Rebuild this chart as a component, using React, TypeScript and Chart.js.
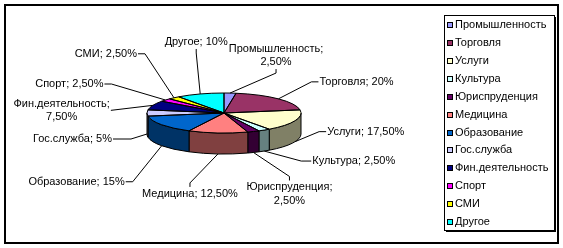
import React, { useEffect, useRef } from "react";
import { Chart, registerables } from "chart.js";

Chart.register(...registerables);

// ---- data ----
const categories = [
  "Промышленность",
  "Торговля",
  "Услуги",
  "Культура",
  "Юриспруденция",
  "Медицина",
  "Образование",
  "Гос.служба",
  "Фин.деятельность",
  "Спорт",
  "СМИ",
  "Другое",
];
const shares = [2.5, 20, 17.5, 2.5, 2.5, 12.5, 15, 5, 7.5, 2.5, 2.5, 10];
const colors = [
  "#9999FF",
  "#993366",
  "#FFFFCC",
  "#CCFFFF",
  "#660066",
  "#FF8080",
  "#0066CC",
  "#CCCCFF",
  "#000080",
  "#FF00FF",
  "#FFFF00",
  "#00FFFF",
];

// ---- label layout (offset of label attach point from the slice edge point) ----
type Side = "left" | "right" | "top" | "bottom";
const labelLayout: { dx: number; dy: number; side: Side; wrap?: boolean; tail?: number }[] = [
  { dx: 46, dy: -24, side: "bottom", wrap: true },
  { dx: 40, dy: -17, side: "left" },
  { dx: 31, dy: -10, side: "left" },
  { dx: 47, dy: 10, side: "left", tail: 10 },
  { dx: 36, dy: 28, side: "top", wrap: true },
  { dx: -28, dy: 33, side: "top" },
  { dx: -36, dy: 36, side: "right" },
  { dx: -34, dy: 5, side: "right", tail: 18 },
  { dx: -42, dy: 5, side: "right", wrap: true, tail: 0 },
  { dx: -61, dy: -16, side: "right" },
  { dx: -36, dy: -44, side: "right" },
  { dx: -4, dy: -45, side: "bottom" },
];

const FONT = '11px "Liberation Sans", Arial, sans-serif';
const TILT = 20 / 77;
const DEPTH = 21;

function fmtPct(v: number) {
  return Number.isInteger(v) ? `${v}%` : `${v.toFixed(2).replace(".", ",")}%`;
}

function shade(hex: string) {
  const n = parseInt(hex.slice(1), 16);
  const r = Math.round(((n >> 16) & 255) * 0.5);
  const g = Math.round(((n >> 8) & 255) * 0.5);
  const b = Math.round((n & 255) * 0.5);
  return `rgb(${r},${g},${b})`;
}

function geom(chart: any) {
  const arcs = chart.getDatasetMeta(0).data as any[];
  const a0 = arcs[0];
  return { arcs, cx: a0.x as number, cy: a0.y as number, rx: a0.outerRadius as number, ry: a0.outerRadius * TILT };
}

const pie3d = {
  id: "pie3d",
  beforeDatasetsDraw(chart: any) {
    const { ctx } = chart;
    const { arcs, cx, cy, rx, ry } = geom(chart);
    ctx.save();
    ctx.lineWidth = 1;
    ctx.strokeStyle = "#000";
    arcs.forEach((arc: any, i: number) => {
      const s = Math.max(arc.startAngle, 0);
      const e = Math.min(arc.endAngle, Math.PI);
      if (e <= s) return;
      ctx.beginPath();
      ctx.moveTo(cx + rx * Math.cos(s), cy + ry * Math.sin(s));
      ctx.ellipse(cx, cy, rx, ry, 0, s, e);
      ctx.lineTo(cx + rx * Math.cos(e), cy + DEPTH + ry * Math.sin(e));
      ctx.ellipse(cx, cy + DEPTH, rx, ry, 0, e, s, true);
      ctx.closePath();
      ctx.fillStyle = shade(colors[i]);
      ctx.fill();
      ctx.stroke();
    });
    ctx.restore();
    ctx.save();
    ctx.translate(cx, cy);
    ctx.scale(1, TILT);
    ctx.translate(-cx, -cy);
  },
  afterDatasetsDraw(chart: any) {
    const { ctx } = chart;
    ctx.restore();
    const { arcs, cx, cy, rx, ry } = geom(chart);
    ctx.save();
    ctx.lineWidth = 1;
    ctx.strokeStyle = "#000";
    // top outlines
    arcs.forEach((arc: any) => {
      const s = arc.startAngle;
      const e = arc.endAngle;
      ctx.beginPath();
      ctx.moveTo(cx, cy);
      ctx.lineTo(cx + rx * Math.cos(s), cy + ry * Math.sin(s));
      ctx.ellipse(cx, cy, rx, ry, 0, s, e);
      ctx.closePath();
      ctx.stroke();
    });

    // data labels with leader lines
    ctx.font = FONT;
    ctx.textBaseline = "middle";
    ctx.textAlign = "center";
    const lineH = 13.5;
    arcs.forEach((arc: any, i: number) => {
      const m = (arc.startAngle + arc.endAngle) / 2;
      const front = Math.sin(m) > -0.05;
      const sx = cx + rx * Math.cos(m);
      const sy = cy + ry * Math.sin(m) + (front ? DEPTH : 0);
      const L = labelLayout[i];
      const ax = sx + L.dx;
      const ay = sy + L.dy;
      const pct = fmtPct(shares[i]);
      const lines = L.wrap ? [categories[i] + ";", pct] : [categories[i] + "; " + pct];
      const w = Math.max(...lines.map((t) => ctx.measureText(t).width));
      const h = lines.length * lineH;
      let bx = 0, by = 0, ex = ax, ey = ay;
      const tail = L.tail ?? (L.side === "left" || L.side === "right" ? 7 : 4);
      if (L.side === "left") {
        bx = ax + 1 + w / 2; by = ay - h / 2; ex = ax - tail;
      } else if (L.side === "right") {
        bx = ax - 1 - w / 2; by = ay - h / 2; ex = ax + tail;
      } else if (L.side === "bottom") {
        bx = ax; by = ay - h; ey = ay + tail;
      } else {
        bx = ax; by = ay; ey = ay - tail;
      }
      ctx.beginPath();
      ctx.moveTo(sx, sy);
      ctx.lineTo(ex, ey);
      ctx.lineTo(ax, ay);
      ctx.stroke();
      ctx.fillStyle = "#000";
      lines.forEach((t, k) => ctx.fillText(t, bx, by + lineH * (k + 0.5)));
    });

    // legend
    ctx.textAlign = "left";
    categories.forEach((c, i) => {
      const y = 25.3 + i * 17.88;
      const yy = Math.round(y);
      ctx.fillStyle = colors[i];
      ctx.fillRect(447, yy - 3, 6, 6);
      ctx.strokeRect(447.5, yy - 2.5, 5, 5);
      ctx.fillStyle = "#000";
      ctx.fillText(c, 455, y);
    });
    ctx.strokeRect(444.5, 15.5, 110, 215);
    ctx.fillRect(555, 17, 1, 215);
    ctx.fillRect(446, 231, 110, 1);

    // outer border
    ctx.lineWidth = 2;
    ctx.strokeRect(5, 5, 553, 238);
    ctx.restore();
  },
};

export default function App() {
  const ref = useRef<HTMLCanvasElement>(null);
  useEffect(() => {
    const canvas = ref.current!;
    const chart = new Chart(canvas, {
      type: "pie",
      data: {
        labels: categories,
        datasets: [
          {
            data: shares,
            backgroundColor: colors,
            borderWidth: 0,
            hoverOffset: 0,
            offset: 0,
            radius: 77,
            clip: false,
          } as any,
        ],
      },
      options: {
        animation: false,
        responsive: false,
        events: [],
        layout: { padding: { left: 147, right: 262, top: 36, bottom: 58 } },
        plugins: {
          legend: { display: false },
          tooltip: { enabled: false },
        },
      },
      plugins: [pie3d],
    });
    return () => chart.destroy();
  }, []);
  return (
    <div style={{ position: "absolute", left: 0, top: 0, width: 563, height: 248, background: "#fff" }}>
      <canvas ref={ref} width={563} height={248} style={{ display: "block", width: 563, height: 248 }} />
    </div>
  );
}
